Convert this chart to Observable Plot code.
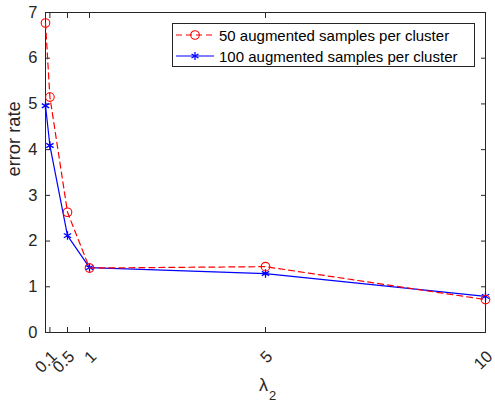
<!DOCTYPE html>
<html><head><meta charset="utf-8">
<script src="https://cdn.jsdelivr.net/npm/d3@7"></script>
<script src="https://cdn.jsdelivr.net/npm/@observablehq/plot@0.6"></script>
<style>
body{margin:0;background:#fff;font-family:"Liberation Sans",Arial,sans-serif;}
#wrap{position:relative;width:495px;height:404px;}
#legend{position:absolute;left:172px;top:23px;width:303px;height:44px;border:1px solid #262626;background:#fff;box-sizing:border-box;font-size:15px;color:#000;}
#legend .row{position:absolute;left:0;height:20px;display:flex;align-items:center;}
#legend svg{margin-left:2px;margin-right:4px;}
</style>
</head><body>
<div id="wrap"></div>
<script>
const lambdas = [0, 0.1, 0.5, 1, 5, 10];
const err50 = [6.77, 5.15, 2.63, 1.41, 1.44, 0.72];
const err100 = [4.96, 4.09, 2.12, 1.42, 1.29, 0.79];
const seriesNames = ["50 augmented samples per cluster", "100 augmented samples per cluster"];
const xTicks = [0.1, 0.5, 1, 5, 10];
const yTicks = [0, 1, 2, 3, 4, 5, 6, 7];

const d50 = lambdas.map((x, i) => ({x, y: err50[i]}));
const d100 = lambdas.map((x, i) => ({x, y: err100[i]}));

const ink = "#262626";
const chart = Plot.plot({
  width: 495, height: 404,
  marginLeft: 45, marginRight: 10, marginTop: 12, marginBottom: 72,
  style: {fontFamily: '"Liberation Sans", Arial, sans-serif', fontSize: "16.5px", color: ink, background: "#fff"},
  x: {domain: [0, 10]},
  y: {domain: [0, 7]},
  marks: [
    Plot.frame({stroke: ink, strokeWidth: 1}),
    Plot.axisX({anchor: "bottom", ticks: xTicks, tickSize: -5, tickFormat: () => "", label: null}),
    Plot.axisX({anchor: "top", ticks: xTicks, tickSize: -5, tickFormat: () => "", label: null}),
    Plot.text(xTicks, {x: d => d, text: d => String(d), frameAnchor: "bottom", textAnchor: "end", rotate: -45, dx: 8, dy: 25, fontSize: 16.5, fill: ink}),
    Plot.axisY({anchor: "left", ticks: yTicks, tickSize: -5, tickPadding: 13, fontSize: 16.5, tickFormat: d => String(d), label: null}),
    Plot.axisY({anchor: "right", ticks: yTicks, tickSize: -5, tickFormat: () => "", label: null}),
    Plot.line(d100, {x: "x", y: "y", stroke: "#0000ff", strokeWidth: 1.2}),
    Plot.dot(d100, {x: "x", y: "y", symbol: "asterisk", r: 4, stroke: "#0000ff", strokeWidth: 1.3}),
    Plot.line(d50, {x: "x", y: "y", stroke: "#ff0000", strokeWidth: 1.2, strokeDasharray: "6,4"}),
    Plot.dot(d50, {x: "x", y: "y", symbol: "circle", r: 4.3, stroke: "#ff0000", fill: "none", strokeWidth: 1.1}),
    Plot.text(["error rate"], {frameAnchor: "left", dx: -31, dy: 4, rotate: -90, fontSize: 18.3, fill: ink}),
    Plot.text(["λ"], {frameAnchor: "bottom", dx: -2, dy: 58, fontSize: 18, fill: ink}),
    Plot.text(["2"], {frameAnchor: "bottom", dx: 7, dy: 67, fontSize: 13, fill: ink})
  ]
});
const wrap = document.getElementById("wrap");
wrap.appendChild(chart);

const leg = document.createElement("div");
leg.id = "legend";
const sample = (color, dash, sym) => {
  let s = `<svg width="40" height="14"><line x1="1" y1="7" x2="39" y2="7" stroke="${color}" stroke-width="1.2" ${dash ? 'stroke-dasharray="6,4"' : ''}/>`;
  if (sym === "circle") s += `<circle cx="20" cy="7" r="4.3" fill="none" stroke="${color}" stroke-width="1.1"/>`;
  else {
    for (const a of [0, 60, 120]) {
      const r = 4, t = a * Math.PI / 180;
      s += `<line x1="${20 - r * Math.sin(t)}" y1="${7 - r * Math.cos(t)}" x2="${20 + r * Math.sin(t)}" y2="${7 + r * Math.cos(t)}" stroke="${color}" stroke-width="1.3"/>`;
    }
  }
  return s + "</svg>";
};
leg.innerHTML =
  `<div class="row" style="top:1px">${sample("#ff0000", true, "circle")}<span>${seriesNames[0]}</span></div>` +
  `<div class="row" style="top:22px">${sample("#0000ff", false, "asterisk")}<span>${seriesNames[1]}</span></div>`;
wrap.appendChild(leg);
</script>
</body></html>
